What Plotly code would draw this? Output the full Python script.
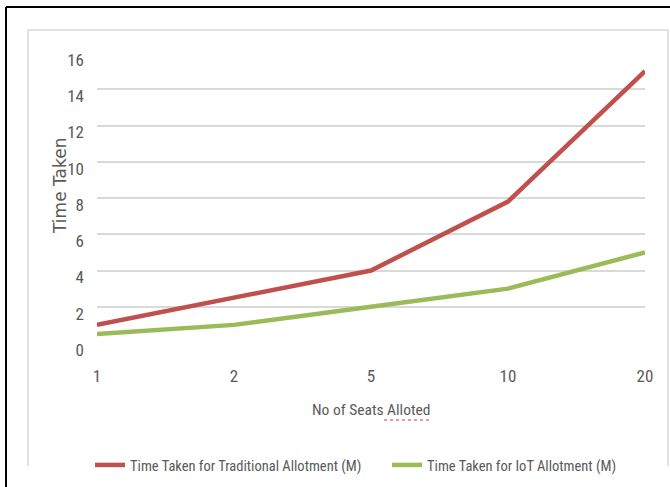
import plotly.graph_objects as go

categories = ["1", "2", "5", "10", "20"]
traditional = [1.0, 2.5, 4.0, 7.8, 15.0]
iot = [0.5, 1.0, 2.0, 3.0, 5.0]
y_ticks = [0, 2, 4, 6, 8, 10, 12, 14, 16]

W, H = 670, 487
L, R, T, B = 97, 645, 53, 343  # plot area in pixels


def px(x):
    return (x - L) / (R - L)


def py(y):
    return (B - y) / (B - T)


FAM = "Liberation Sans Narrow, Arial Narrow, Roboto Condensed, sans-serif"
tick_font = dict(family=FAM, size=17, color="#595959")
title_font = dict(family=FAM, size=15.5, color="#595959")
legend_font = dict(family=FAM, size=14.5, color="#595959")

fig = go.Figure()
fig.add_trace(go.Scatter(x=categories, y=traditional, mode="lines",
                         name="Time Taken for Traditional Allotment (M)",
                         line=dict(color="#C0504D", width=4.5), legend="legend"))
fig.add_trace(go.Scatter(x=categories, y=iot, mode="lines",
                         name="Time Taken for IoT Allotment (M)",
                         line=dict(color="#9BBB59", width=4.5), legend="legend2"))

leg_common = dict(orientation="h", yanchor="middle", y=py(465), xanchor="left",
                  font=legend_font, itemwidth=30, bgcolor="rgba(0,0,0,0)",
                  borderwidth=0, tracegroupgap=0)

frame = dict(color="#D9D9D9", width=1.5)

fig.update_layout(
    width=W, height=H,
    margin=dict(l=L, r=W - R, t=T, b=H - B, autoexpand=False),
    paper_bgcolor="white", plot_bgcolor="white",
    showlegend=True,
    legend=dict(x=px(90), **leg_common),
    legend2=dict(x=px(387), **leg_common),
    xaxis=dict(type="category", range=[0, 4], showgrid=False, zeroline=False,
               showline=False, ticks="", tickfont=tick_font, ticklabelstandoff=21),
    yaxis=dict(range=[0, 16], tickvals=y_ticks, showgrid=True, gridcolor="#D9D9D9",
               gridwidth=1.5, zeroline=False, showline=False, ticks="",
               tickfont=tick_font, ticklabelstandoff=12, ticklabelshift=7),
    annotations=[
        dict(text="Time Taken", xref="paper", yref="paper", x=px(60), y=py(186),
             textangle=-90, showarrow=False, xanchor="center", yanchor="middle",
             font=dict(family="DejaVu Sans", size=17, color="#595959")),
        dict(text="No of Seats Alloted", xref="paper", yref="paper", x=px(371), y=py(410),
             showarrow=False, xanchor="center", yanchor="middle", font=title_font),
    ],
    shapes=[
        # outer black frame (left and top edges)
        dict(type="line", xref="paper", yref="paper", x0=px(6), x1=px(6), y0=py(487), y1=py(7),
             line=dict(color="black", width=2)),
        dict(type="line", xref="paper", yref="paper", x0=px(6), x1=px(670), y0=py(7), y1=py(7),
             line=dict(color="black", width=2)),
        # inner chart frame (left, top, right)
        dict(type="line", xref="paper", yref="paper", x0=px(28), x1=px(28), y0=py(466), y1=py(30),
             line=frame),
        dict(type="line", xref="paper", yref="paper", x0=px(28), x1=px(668), y0=py(30), y1=py(30),
             line=frame),
        dict(type="line", xref="paper", yref="paper", x0=px(668), x1=px(668), y0=py(466), y1=py(30),
             line=frame),
        # spell-check underline
        dict(type="line", xref="paper", yref="paper", x0=px(384), x1=px(432), y0=py(420), y1=py(420),
             line=dict(color="#E03030", width=1.2, dash="dot")),
    ],
)

fig.write_html("out.html", config={"displayModeBar": False},
               post_script="document.body.style.margin='0';document.body.style.overflow='hidden';")
